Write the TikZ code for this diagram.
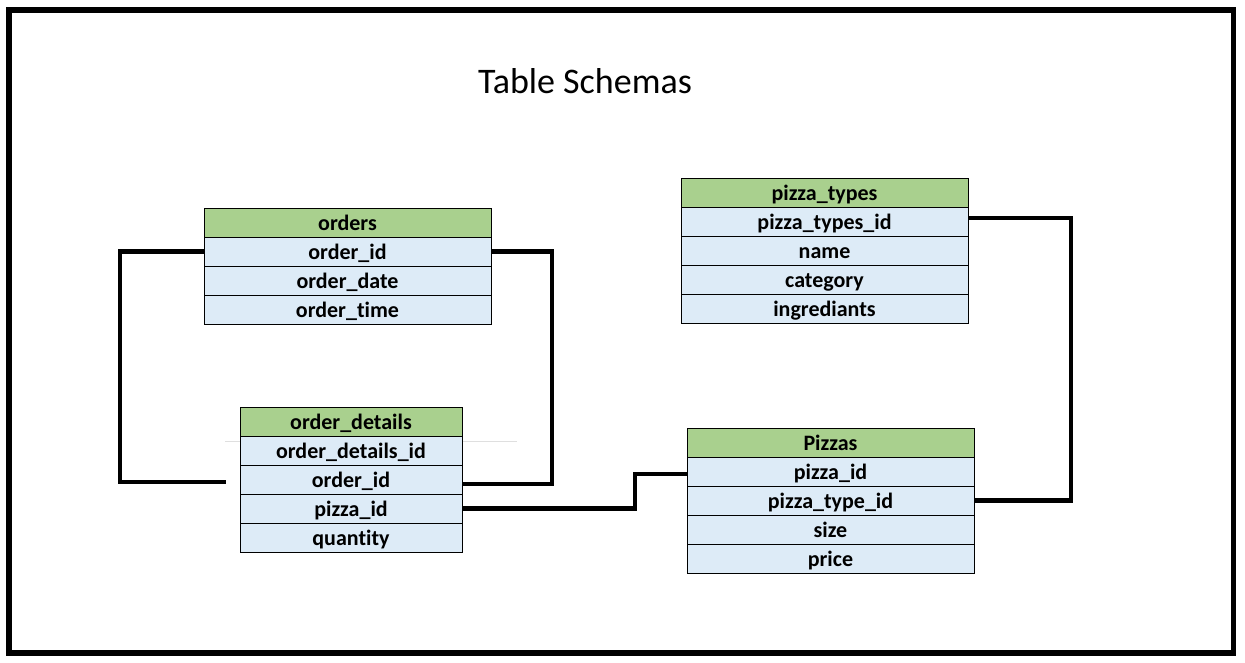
\documentclass[tikz,border=0pt]{standalone}
\usepackage{fontspec}
\setmainfont{Carlito}[Ligatures=NoCommon]
\usepackage{xcolor}
\definecolor{headgreen}{RGB}{169, 208, 142}
\definecolor{rowblue}{RGB}{221, 235, 247}
\usetikzlibrary{positioning, calc}

\begin{document}
\begin{tikzpicture}[x=1pt, y=-1pt, node distance=0pt,
        tablehead/.style={rectangle, draw=black, line width=0.8pt, fill=headgreen, minimum height=29pt, inner sep=0pt, outer sep=0pt, text height=18pt, text depth=2pt, font=\fontsize{22}{26}\selectfont\bfseries},
        tablerow/.style={rectangle, draw=black, line width=0.8pt, fill=rowblue, minimum height=29pt, inner sep=0pt, outer sep=0pt, text height=18pt, text depth=2pt, font=\fontsize{22}{26}\selectfont\bfseries},
        link/.style={draw=black, line width=4.5pt}]

        \useasboundingbox (0,0) rectangle (1245,663);
        \draw [line width=5.5pt] (9,10) rectangle (1233.5,653);

        \node (title) at (585,81) {\fontsize{36}{42}\selectfont Table Schemas};

        % orders
        \node [tablehead, minimum width=287pt, anchor=north west] (orders) at (204,208) {orders};
        \node [tablerow, minimum width=287pt, below=of orders] (orderid) {order\_id};
        \node [tablerow, minimum width=287pt, below=of orderid] (orderdate) {order\_date};
        \node [tablerow, minimum width=287pt, below=of orderdate] (ordertime) {order\_time};

        % order_details
        \draw [gray!25, line width=0.8pt] (225,441.5) -- (517,441.5);
        \node [tablehead, minimum width=222pt, anchor=north west] (details) at (240,407) {order\_details};
        \node [tablerow, minimum width=222pt, below=of details] (detailsid) {order\_details\_id};
        \node [tablerow, minimum width=222pt, below=of detailsid] (detailsorder) {order\_id};
        \node [tablerow, minimum width=222pt, below=of detailsorder] (detailspizza) {pizza\_id};
        \node [tablerow, minimum width=222pt, below=of detailspizza] (detailsqty) {quantity};

        % pizza_types
        \node [tablehead, minimum width=287pt, anchor=north west] (types) at (681,178) {pizza\_types};
        \node [tablerow, minimum width=287pt, below=of types] (typesid) {pizza\_types\_id};
        \node [tablerow, minimum width=287pt, below=of typesid] (typesname) {name};
        \node [tablerow, minimum width=287pt, below=of typesname] (typescat) {category};
        \node [tablerow, minimum width=287pt, below=of typescat] (typesingr) {ingrediants};

        % Pizzas
        \node [tablehead, minimum width=287pt, anchor=north west] (pizzas) at (687,428) {Pizzas};
        \node [tablerow, minimum width=287pt, below=of pizzas] (pizzaid) {pizza\_id};
        \node [tablerow, minimum width=287pt, below=of pizzaid] (pizzatype) {pizza\_type\_id};
        \node [tablerow, minimum width=287pt, below=of pizzatype] (pizzasize) {size};
        \node [tablerow, minimum width=287pt, below=of pizzasize] (pizzaprice) {price};

        % links
        \coordinate (leftend) at ([xshift=-14pt, yshift=-2.5pt]detailsorder.west);
        \path [link] (orderid.west) -- ++(-84,0) |- (leftend);
        \path [link] (orderid.east) -- ++(61,0) |- ([yshift=-4.5pt]detailsorder.east);
        \path [link] (detailspizza.east) -- ++(173,0) |- ([yshift=-2.5pt]pizzaid.west);
        \path [link] ([yshift=3.5pt]typesid.east) -- ++(103,0) |- (pizzatype.east);
    \end{tikzpicture}
\end{document}
